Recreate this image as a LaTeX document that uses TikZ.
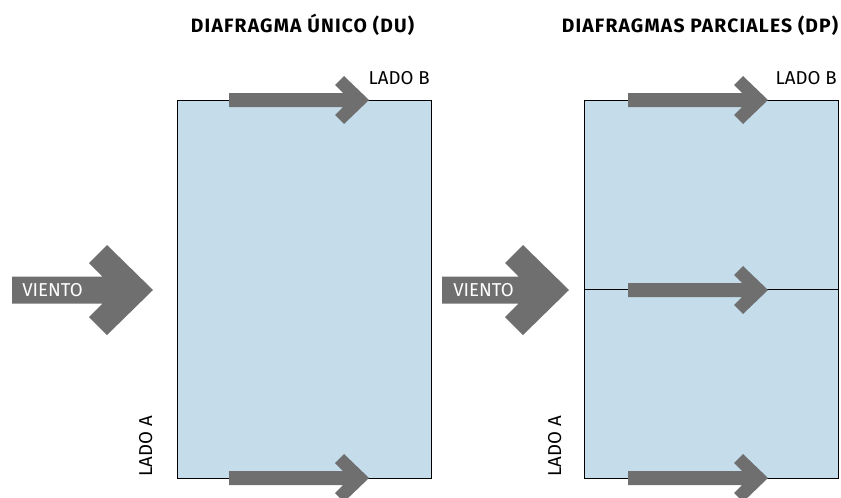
\documentclass[tikz,border=0pt]{standalone}
\usepackage{fontspec}
\setmainfont{Fira Sans}
\newfontfamily\titulofont[LetterSpace=6]{Fira Sans}
\usepackage{xcolor}
\usepackage{tikz}
\definecolor{azul}{RGB}{197,220,234}
\definecolor{gris}{RGB}{111,111,111}

\begin{document}
\begin{tikzpicture}[
    x=0.75pt, y=-0.75pt,
    planta/.style={draw=black, line width=0.7pt, fill=azul, minimum width=190.5pt, minimum height=283.5pt, inner sep=0pt},
    titulo/.style={font=\titulofont\fontsize{14.5}{16}\selectfont\bfseries, inner sep=0pt, anchor=base},
    lado/.style={font=\fontsize{14}{16}\selectfont, inner sep=0pt},
    rotulo/.style={font=\fontsize{14}{16}\selectfont, text=white, inner sep=0pt, anchor=base west},
    pics/flecha/.style={code={
        \fill[gris] (0,0) -- (-25,-24) -- (-34,-15) -- (-26,-7) -- (-140,-7) -- (-140,7)
            -- (-26,7) -- (-34,15) -- (-25,24) -- cycle;}},
    pics/viento/.style={code={
        \fill[gris] (0,0) -- (-46,-45) -- (-64,-27) -- (-50.5,-13.5) -- (-#1,-13.5) -- (-#1,13.5)
            -- (-50.5,13.5) -- (-64,27) -- (-46,45) -- cycle;}}
]
\useasboundingbox (0,0) rectangle (841,497);
\node[titulo] (tituloDU) at (302.5,32) {DIAFRAGMA ÚNICO (DU)};
\node[titulo] (tituloDP) at (700,32) {DIAFRAGMAS PARCIALES (DP)};
\node[planta] (du) at (304,289) {};
\node[planta] (dp) at (711,289) {};
\draw[line width=0.7pt] (dp.west) -- (dp.east);
\node[lado, anchor=base east] (ladoBdu) at (430,84) {LADO B};
\node[lado, anchor=base east] (ladoBdp) at (837,84) {LADO B};
\node[lado, rotate=90, anchor=base west] (ladoAdu) at (152,477) {LADO A};
\node[lado, rotate=90, anchor=base west] (ladoAdp) at (561,477) {LADO A};
\pic at (369,100) {flecha};
\pic at (369,478) {flecha};
\pic at (768,100) {flecha};
\pic at (768,290) {flecha};
\pic at (768,478) {flecha};
\pic at (153,290) {viento=141};
\pic at (569,290) {viento=127};
\node[rotulo] (vientoDU) at (22,296) {VIENTO};
\node[rotulo] (vientoDP) at (453,296) {VIENTO};
\end{tikzpicture}
\end{document}
